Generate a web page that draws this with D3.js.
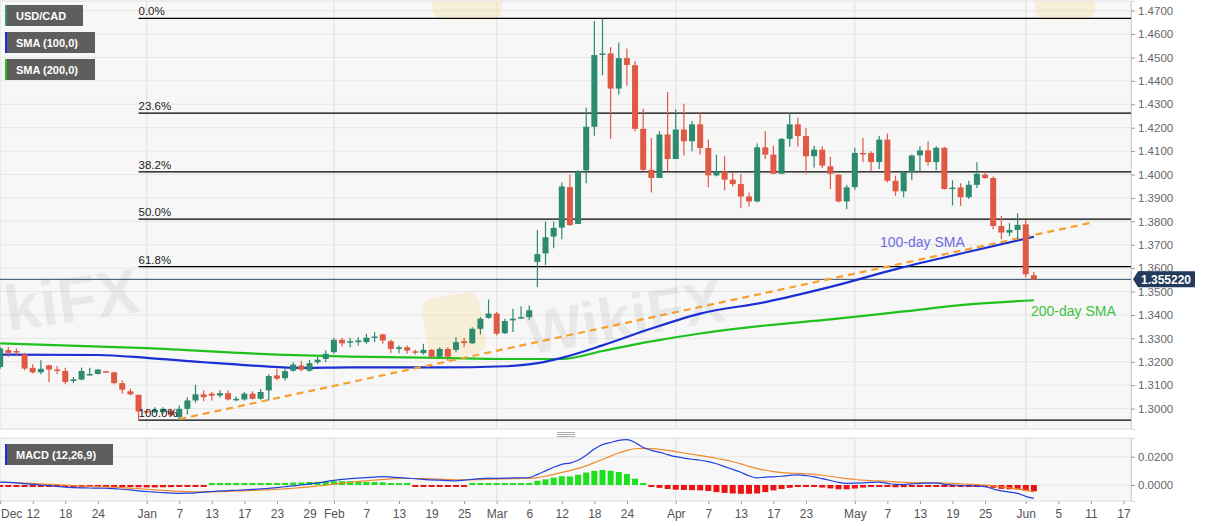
<!DOCTYPE html>
<html><head><meta charset="utf-8">
<script src="https://cdn.jsdelivr.net/npm/d3@7"></script>
<style>
body{margin:0;background:#fff;}
svg{display:block;font-family:"Liberation Sans",Arial,Helvetica,sans-serif;}
</style>
</head><body>
<svg id="chart" width="1207" height="526"></svg>
<script>
// ---------------- DATA ----------------
// trading-day index of first candle (0 = Dec 12, 2019)
const firstIndex = -4;
const opens = [1.3178,1.3250,1.3246,1.3232,
1.3174,1.3155,1.3185,1.3167,1.3161,1.3118,1.3124,1.3145,1.3148,1.3160,
1.3155,1.3109,1.3074,1.3059,1.2990,1.2985,1.2985,1.2992,1.2964,1.2999,
1.3035,1.3061,1.3064,1.3056,1.3066,1.3039,1.3039,1.3064,1.3042,1.3078,
1.3142,1.3130,1.3162,1.3184,1.3162,1.3198,1.3212,1.3241,1.3294,1.3284,
1.3284,1.3284,1.3305,1.3317,1.3288,1.3255,1.3262,1.3245,1.3237,1.3251,
1.3222,1.3255,1.3251,1.3288,1.3279,1.3341,1.3388,1.3406,1.3322,1.3377,
1.3387,1.3391,1.3627,1.3663,1.3735,1.3773,1.3946,1.3789,1.4018,1.4204,
1.4511,1.4517,1.4367,1.4497,1.4467,1.4195,1.4020,1.3985,1.4171,1.4066,
1.4192,1.4142,1.4214,1.4113,1.3996,1.4013,1.3978,1.3959,1.3906,1.3885,
1.4116,1.4085,1.4003,1.4152,1.4214,1.4164,1.4078,1.4106,1.4035,1.3999,
1.3885,1.3946,1.4092,1.4092,1.4053,1.4149,1.3973,1.3928,1.4011,1.4082,
1.4103,1.4053,1.4114,1.3941,1.3945,1.3903,1.3956,1.3999,1.3985,1.3780,
1.3752,1.3763,1.3787,1.3570];
const highs = [1.3264,1.3264,1.3257,1.3238,
1.3190,1.3207,1.3187,1.3182,1.3175,1.3135,1.3175,1.3175,1.3168,1.3161,
1.3158,1.3121,1.3085,1.3060,1.2998,1.3006,1.3006,1.2999,1.3013,1.3049,
1.3102,1.3078,1.3071,1.3078,1.3078,1.3052,1.3071,1.3074,1.3084,1.3147,
1.3171,1.3170,1.3198,1.3205,1.3208,1.3220,1.3248,1.3303,1.3303,1.3303,
1.3305,1.3320,1.3327,1.3320,1.3294,1.3270,1.3270,1.3251,1.3277,1.3255,
1.3262,1.3262,1.3305,1.3303,1.3348,1.3391,1.3466,1.3413,1.3384,1.3427,
1.3437,1.3441,1.3763,1.3799,1.3799,1.3966,1.3999,1.4018,1.4285,1.4656,
1.4667,1.4543,1.4564,1.4538,1.4485,1.4281,1.4156,1.4185,1.4352,1.4278,
1.4302,1.4228,1.4264,1.4149,1.4085,1.4078,1.4009,1.4002,1.3923,1.4132,
1.4185,1.4123,1.4156,1.4264,1.4242,1.4199,1.4123,1.4121,1.4075,1.4001,
1.3956,1.4114,1.4156,1.4099,1.4164,1.4175,1.3995,1.4015,1.4085,1.4121,
1.4142,1.4121,1.4118,1.3975,1.3963,1.3973,1.4052,1.4013,1.3992,1.3823,
1.3792,1.3835,1.3806,1.3584];
const lows = [1.3170,1.3221,1.3224,1.3164,
1.3150,1.3147,1.3114,1.3147,1.3104,1.3109,1.3121,1.3141,1.3146,1.3157,
1.3104,1.3064,1.3057,1.2951,1.2980,1.2981,1.2978,1.2966,1.2956,1.2975,
1.3025,1.3032,1.3035,1.3046,1.3035,1.3032,1.3035,1.3039,1.3038,1.3035,
1.3121,1.3120,1.3158,1.3160,1.3158,1.3191,1.3198,1.3234,1.3265,1.3262,
1.3270,1.3277,1.3284,1.3277,1.3237,1.3237,1.3234,1.3231,1.3231,1.3213,
1.3213,1.3205,1.3241,1.3262,1.3277,1.3317,1.3384,1.3312,1.3320,1.3327,
1.3384,1.3380,1.3520,1.3613,1.3685,1.3723,1.3780,1.3789,1.3963,1.4166,
1.4424,1.4152,1.4342,1.4378,1.4185,1.4013,1.3923,1.3985,1.4013,1.4066,
1.4081,1.4099,1.4085,1.3946,1.3992,1.3932,1.3949,1.3856,1.3863,1.3880,
1.4066,1.4003,1.4003,1.4118,1.4118,1.4003,1.4030,1.4028,1.3938,1.3880,
1.3852,1.3935,1.4052,1.4013,1.4023,1.3966,1.3909,1.3903,1.3975,1.4011,
1.4038,1.4018,1.3935,1.3868,1.3866,1.3895,1.3942,1.3982,1.3766,1.3723,
1.3737,1.3723,1.3560,1.3548];
const closes = [1.3257,1.3238,1.3244,1.3171,
1.3155,1.3170,1.3167,1.3161,1.3114,1.3125,1.3161,1.3148,1.3167,1.3158,
1.3109,1.3081,1.3061,1.2988,1.2986,1.2995,1.2999,1.2971,1.2999,1.3035,
1.3061,1.3049,1.3055,1.3066,1.3039,1.3042,1.3064,1.3042,1.3071,1.3139,
1.3128,1.3160,1.3188,1.3166,1.3194,1.3209,1.3234,1.3294,1.3279,1.3288,
1.3291,1.3303,1.3308,1.3291,1.3255,1.3262,1.3248,1.3240,1.3251,1.3222,
1.3255,1.3222,1.3284,1.3280,1.3341,1.3384,1.3406,1.3320,1.3374,1.3384,
1.3391,1.3420,1.3660,1.3732,1.3772,1.3949,1.3784,1.4013,1.4204,1.4510,
1.4517,1.4367,1.4497,1.4468,1.4195,1.4020,1.3985,1.4171,1.4066,1.4192,
1.4142,1.4214,1.4113,1.3996,1.4013,1.3978,1.3959,1.3906,1.3885,1.4116,
1.4085,1.4003,1.4152,1.4214,1.4164,1.4078,1.4106,1.4038,1.4003,1.3885,
1.3945,1.4092,1.4089,1.4053,1.4149,1.3973,1.3928,1.4009,1.4081,1.4103,
1.4053,1.4114,1.3938,1.3944,1.3903,1.3956,1.4003,1.3985,1.3780,1.3752,
1.3763,1.3785,1.3574,1.3552];

// moving averages (index, value)
const sma100Idx = [-4,8,14,21,25,29,33,39,50,58,62,65,70,76,82,90,98,106.5,115,123];
const sma100Val = [1.3231,1.3229,1.3217,1.3198,1.3189,1.3179,1.3174,1.3176,1.3176,1.3181,1.3194,1.3217,1.3270,1.3342,1.3406,1.3455,1.3520,1.3600,1.3670,1.3734];
const sma200Idx = [-4,14,30,39,50,58,65,70,76,82,90,98,107,115,123];
const sma200Val = [1.3279,1.3258,1.3231,1.3222,1.3217,1.3212,1.3212,1.3246,1.3287,1.3321,1.3355,1.3381,1.3415,1.3445,1.3463];

// trend line (two anchor points)
const trendIdx = [18, 130];
const trendVal = [1.2955, 1.3794];

// Fibonacci retracement
const fibHigh = 1.4667, fibLow = 1.2951, fibStartIdx = 13;
const fibLevels = [0, 0.236, 0.382, 0.5, 0.618, 1];
const fibLabels = ["0.0%","23.6%","38.2%","50.0%","61.8%","100.0%"];

const lastPrice = 1.355220;

// MACD (12,26,9)
const macdVals = [0.0020,0.0018,0.0015,0.0010,
0.0005,0.0000,-0.0005,-0.0010,-0.0015,-0.0018,-0.0020,-0.0021,-0.0022,-0.0023,
-0.0025,-0.0030,-0.0035,-0.0042,-0.0046,-0.0050,-0.0054,-0.0057,-0.0059,-0.0058,
-0.0055,-0.0050,-0.0046,-0.0042,-0.0040,-0.0037,-0.0034,-0.0031,-0.0028,-0.0024,
-0.0018,-0.0012,-0.0006,0.0000,0.0008,0.0015,0.0024,0.0033,0.0040,0.0045,
0.0049,0.0052,0.0056,0.0059,0.0056,0.0052,0.0048,0.0044,0.0040,0.0036,
0.0034,0.0031,0.0029,0.0034,0.0040,0.0045,0.0048,0.0047,0.0048,0.0050,
0.0051,0.0053,0.0075,0.0100,0.0125,0.0146,0.0155,0.0175,0.0210,0.0255,
0.0285,0.0300,0.0315,0.0320,0.0300,0.0265,0.0245,0.0232,0.0215,0.0200,
0.0190,0.0182,0.0175,0.0165,0.0150,0.0130,0.0110,0.0090,0.0065,0.0050,
0.0056,0.0058,0.0062,0.0068,0.0072,0.0066,0.0058,0.0045,0.0032,0.0018,
0.0012,0.0013,0.0015,0.0018,0.0020,0.0012,0.0004,0.0003,0.0008,0.0012,
0.0013,0.0015,0.0005,0.0000,-0.0004,-0.0006,-0.0008,-0.0012,-0.0028,-0.0042,
-0.0050,-0.0059,-0.0080,-0.0095];
const signalVals = [0.0019,0.0018,0.0016,0.0014,
0.0011,0.0008,0.0005,0.0002,-0.0001,-0.0004,-0.0007,-0.0009,-0.0012,-0.0014,
-0.0016,-0.0019,-0.0022,-0.0026,-0.0030,-0.0034,-0.0038,-0.0042,-0.0045,-0.0047,
-0.0048,-0.0048,-0.0048,-0.0047,-0.0045,-0.0043,-0.0041,-0.0039,-0.0037,-0.0034,
-0.0031,-0.0027,-0.0023,-0.0018,-0.0013,-0.0007,-0.0001,0.0006,0.0013,0.0019,
0.0025,0.0030,0.0035,0.0040,0.0043,0.0046,0.0046,0.0046,0.0045,0.0043,
0.0041,0.0039,0.0037,0.0036,0.0037,0.0038,0.0040,0.0042,0.0043,0.0044,
0.0046,0.0047,0.0052,0.0062,0.0075,0.0089,0.0102,0.0117,0.0135,0.0158,
0.0180,0.0204,0.0226,0.0245,0.0256,0.0259,0.0257,0.0252,0.0245,0.0236,
0.0226,0.0217,0.0208,0.0199,0.0189,0.0177,0.0164,0.0149,0.0132,0.0116,
0.0104,0.0095,0.0088,0.0084,0.0082,0.0079,0.0075,0.0069,0.0061,0.0053,
0.0045,0.0039,0.0034,0.0031,0.0029,0.0026,0.0022,0.0019,0.0017,0.0016,
0.0016,0.0016,0.0014,0.0011,0.0008,0.0005,0.0002,-0.0001,-0.0006,-0.0013,
-0.0020,-0.0028,-0.0038,-0.0049];
const histVals = [-0.0002,-0.0002,-0.0003,-0.0004,
-0.0006,-0.0008,-0.0010,-0.0012,-0.0013,-0.0014,-0.0013,-0.0012,-0.0010,-0.0009,
-0.0009,-0.0011,-0.0013,-0.0016,-0.0017,-0.0017,-0.0016,-0.0015,-0.0014,-0.0011,
-0.0007,-0.0002,0.0002,0.0005,0.0005,0.0006,0.0007,0.0008,0.0009,0.0010,
0.0013,0.0015,0.0017,0.0018,0.0021,0.0022,0.0025,0.0027,0.0027,0.0026,
0.0024,0.0022,0.0021,0.0019,0.0013,0.0006,0.0002,-0.0002,-0.0005,-0.0007,
-0.0007,-0.0008,-0.0008,-0.0002,0.0003,0.0007,0.0008,0.0005,0.0005,0.0006,
0.0005,0.0006,0.0030,0.0040,0.0052,0.0062,0.0060,0.0072,0.0088,0.0100,
0.0106,0.0100,0.0092,0.0078,0.0045,0.0008,-0.0010,-0.0020,-0.0028,-0.0033,
-0.0035,-0.0036,-0.0038,-0.0042,-0.0050,-0.0056,-0.0060,-0.0062,-0.0062,-0.0060,
-0.0050,-0.0038,-0.0028,-0.0020,-0.0012,-0.0012,-0.0014,-0.0018,-0.0024,-0.0030,
-0.0030,-0.0025,-0.0018,-0.0013,-0.0010,-0.0012,-0.0016,-0.0015,-0.0009,-0.0004,
-0.0002,-0.0001,-0.0008,-0.0011,-0.0012,-0.0011,-0.0010,-0.0011,-0.0020,-0.0027,
-0.0030,-0.0031,-0.0040,-0.0045];

// axis ticks
const xTickLabels = ["Dec","12","18","24","Jan","7","13","17","23","29","Feb","7","13","19","25","Mar","6","12","18","24","Apr","7","13","17","23","May","7","13","19","25","Jun","5","11","17"];
const xTickIdx = [-4,0,4,8,14,18,22,26,30,34,37,41,45,49,53,57,61,65,69,73,79,83,87,91,95,101,105,109,113,117,122,126,130,134];
const monthStartIdx = [14,37,57,79,101,122];
const priceTicks = [1.47,1.46,1.45,1.44,1.43,1.42,1.41,1.40,1.39,1.38,1.37,1.36,1.35,1.34,1.33,1.32,1.31,1.30];
const macdTicks = [0.02, 0.0];

// ---------------- DRAW ----------------
const svg = d3.select("#chart");
const plotR = 1131;
const mainTop = 1, mainBot = 429, macdTop = 438, macdBot = 501;

const x = d3.scaleLinear().domain([-4.02, 134.93]).range([0, plotR]);
const y = d3.scaleLinear().domain([1.2913, 1.4741]).range([mainBot, mainTop]);
const ym = d3.scaleLinear().domain([-0.0113, 0.0332]).range([macdBot, macdTop]);

const defs = svg.append("defs");
defs.append("clipPath").attr("id","clipMain").append("rect").attr("x",0).attr("y",mainTop).attr("width",plotR).attr("height",mainBot-mainTop);
defs.append("clipPath").attr("id","clipMacd").append("rect").attr("x",0).attr("y",macdTop).attr("width",plotR).attr("height",macdBot-macdTop);

// panel backgrounds
svg.append("rect").attr("x",0).attr("y",mainTop).attr("width",plotR).attr("height",mainBot-mainTop).attr("fill","#f7f7f7").attr("stroke","#d9dde3");
svg.append("rect").attr("x",0).attr("y",macdTop).attr("width",plotR).attr("height",macdBot-macdTop).attr("fill","#f7f7f7").attr("stroke","#d9dde3");

const gMain = svg.append("g").attr("clip-path","url(#clipMain)");
const gMacd = svg.append("g").attr("clip-path","url(#clipMacd)");

// grid
gMain.selectAll(".hg").data(priceTicks).join("line")
  .attr("x1",0).attr("x2",plotR).attr("y1",d=>y(d)).attr("y2",d=>y(d))
  .attr("stroke","#e6e6e6").attr("stroke-width",1);
gMain.selectAll(".vg").data(monthStartIdx).join("line")
  .attr("x1",d=>x(d)).attr("x2",d=>x(d)).attr("y1",mainTop).attr("y2",mainBot)
  .attr("stroke","#e2e2e2").attr("stroke-width",1.2);
gMacd.selectAll(".vg").data(monthStartIdx).join("line")
  .attr("x1",d=>x(d)).attr("x2",d=>x(d)).attr("y1",macdTop).attr("y2",macdBot)
  .attr("stroke","#e2e2e2").attr("stroke-width",1.2);
gMacd.selectAll(".hg").data(macdTicks).join("line")
  .attr("x1",0).attr("x2",plotR).attr("y1",d=>ym(d)).attr("y2",d=>ym(d))
  .attr("stroke","#e6e6e6");

// watermarks
const wm = gMain.append("g").attr("fill","#000").attr("fill-opacity",0.06).attr("font-weight","bold");
wm.append("text").attr("x",4).attr("y",322).attr("font-size",64)
  .attr("transform","rotate(-8,70,300)").text("kiFX");
wm.append("text").attr("x",525).attr("y",342).attr("font-size",60)
  .attr("transform","rotate(-10,600,320)").text("WikiFX");
wm.append("text").attr("x",1136).attr("y",330).attr("font-size",50)
  .attr("transform","rotate(-10,1170,315)").text("Wi");
const logos = gMain.append("g").attr("fill","#f3e2b0").attr("fill-opacity",0.45);
logos.append("rect").attr("x",425).attr("y",295).attr("width",58).attr("height",62).attr("rx",12).attr("transform","rotate(-10,454,326)");
logos.append("rect").attr("x",432).attr("y",-30).attr("width",70).attr("height",50).attr("rx",12);
logos.append("rect").attr("x",1035).attr("y",-30).attr("width",60).attr("height",50).attr("rx",12);

// fib lines
const fibData = fibLevels.map((l,k)=>({v: fibHigh - l*(fibHigh-fibLow), label: fibLabels[k]}));
gMain.selectAll(".fib").data(fibData).join("line")
  .attr("x1",x(fibStartIdx)).attr("x2",plotR).attr("y1",d=>y(d.v)).attr("y2",d=>y(d.v))
  .attr("stroke","#000").attr("stroke-width",1.2);

// last price line
gMain.append("line").attr("x1",0).attr("x2",plotR).attr("y1",y(lastPrice)).attr("y2",y(lastPrice))
  .attr("stroke","#2c4766").attr("stroke-width",1);

// SMA 200 & 100
const smaLine = d3.line().x(d=>x(d[0])).y(d=>y(d[1])).curve(d3.curveMonotoneX);
gMain.append("path").attr("d",smaLine(sma200Idx.map((v,k)=>[v,sma200Val[k]])))
  .attr("fill","none").attr("stroke","#1fc11f").attr("stroke-width",2.2);
gMain.append("path").attr("d",smaLine(sma100Idx.map((v,k)=>[v,sma100Val[k]])))
  .attr("fill","none").attr("stroke","#1a2fd4").attr("stroke-width",2.2);

// trend line
gMain.append("line").attr("x1",x(trendIdx[0])).attr("y1",y(trendVal[0]))
  .attr("x2",x(trendIdx[1])).attr("y2",y(trendVal[1]))
  .attr("stroke","#f5a030").attr("stroke-width",2.2).attr("stroke-dasharray","7,5");

// candles
const candles = opens.map((o,k)=>({i:firstIndex+k,o,h:highs[k],l:lows[k],c:closes[k]}));
const up = "#2c8a6f", dn = "#df5a44";
const cg = gMain.append("g");
cg.selectAll(".wick").data(candles).join("line")
  .attr("x1",d=>x(d.i)).attr("x2",d=>x(d.i)).attr("y1",d=>y(d.h)).attr("y2",d=>y(d.l))
  .attr("stroke",d=>d.c>=d.o?up:dn).attr("stroke-width",1.2);
cg.selectAll(".body").data(candles).join("rect")
  .attr("x",d=>x(d.i)-3).attr("width",6)
  .attr("y",d=>y(Math.max(d.o,d.c)))
  .attr("height",d=>Math.max(1.5, y(Math.min(d.o,d.c))-y(Math.max(d.o,d.c))))
  .attr("fill",d=>d.c>=d.o?up:dn);

// fib labels
gMain.selectAll(".fibl").data(fibData).join("text")
  .attr("x",x(fibStartIdx)).attr("y",d=>y(d.v)-3).attr("font-size",11.5).attr("fill","#222")
  .text(d=>d.label);

// annotations
gMain.append("text").attr("x",880).attr("y",247).attr("font-size",14).attr("fill","#6a6ae6").text("100-day SMA");
gMain.append("text").attr("x",1031).attr("y",316).attr("font-size",14).attr("fill","#3dc23d").text("200-day SMA");

// legends
function legendBox(yy, w, strip, label){
  const g = svg.append("g");
  g.append("rect").attr("x",5).attr("y",yy).attr("width",w).attr("height",21).attr("fill","#5e5e5e");
  g.append("rect").attr("x",5).attr("y",yy).attr("width",2).attr("height",21).attr("fill",strip);
  g.append("text").attr("x",16).attr("y",yy+15).attr("font-size",11).attr("font-weight","bold").attr("fill","#fff").text(label);
}
legendBox(5, 78, "#3f8f7c", "USD/CAD");
legendBox(32, 90, "#1a2fd4", "SMA (100,0)");
legendBox(59, 90, "#1fc11f", "SMA (200,0)");
legendBox(444, 108, "#1a2fd4", "MACD (12,26,9)");

// MACD histogram
const mdata = macdVals.map((m,k)=>({i:firstIndex+k,m,s:signalVals[k],h:histVals[k]}));
gMacd.selectAll(".hist").data(mdata).join("rect")
  .attr("x",d=>x(d.i)-3).attr("width",6)
  .attr("y",d=>{const hh=Math.max(2,Math.abs(ym(d.h)-ym(0))); return d.h>=0? ym(0)-hh : ym(0);})
  .attr("height",d=>Math.max(2,Math.abs(ym(d.h)-ym(0))))
  .attr("fill",d=>d.h>=0?"#1ee01e":"#ec1212");
const ml = d3.line().x(d=>x(d[0])).y(d=>ym(d[1])).curve(d3.curveMonotoneX);
gMacd.append("path").attr("d",ml(mdata.map(d=>[d.i,d.s]))).attr("fill","none").attr("stroke","#f08a2c").attr("stroke-width",1.2);
gMacd.append("path").attr("d",ml(mdata.map(d=>[d.i,d.m]))).attr("fill","none").attr("stroke","#2240dc").attr("stroke-width",1.2);

// panel handle
[432.5,434.5,436.5].forEach(v=>svg.append("line").attr("x1",557).attr("x2",575).attr("y1",v).attr("y2",v).attr("stroke","#777").attr("stroke-width",0.6));

// right axes
const yAxis = d3.axisRight(y).tickValues(priceTicks).tickFormat(d3.format(".4f")).tickSize(4).tickPadding(3);
const ga = svg.append("g").attr("transform",`translate(${plotR},0)`).call(yAxis);
ga.select(".domain").attr("stroke","#cfd3d8");
ga.selectAll("line").attr("stroke","#999");
ga.selectAll("text").attr("font-size",11.5).attr("fill","#666").attr("font-family","'Liberation Sans',Arial,sans-serif");

const ymAxis = d3.axisRight(ym).tickValues(macdTicks).tickFormat(d3.format(".4f")).tickSize(4).tickPadding(3);
const gm = svg.append("g").attr("transform",`translate(${plotR},0)`).call(ymAxis);
gm.select(".domain").attr("stroke","#cfd3d8");
gm.selectAll("line").attr("stroke","#999");
gm.selectAll("text").attr("font-size",11.5).attr("fill","#666").attr("font-family","'Liberation Sans',Arial,sans-serif");

// price tag
const py = y(lastPrice);
svg.append("path").attr("d",`M${plotR+2},${py} L${plotR+7},${py-8} L${plotR+64},${py-8} L${plotR+64},${py+8} L${plotR+7},${py+8} Z`).attr("fill","#223a5c");
svg.append("text").attr("x",plotR+35).attr("y",py+4.5).attr("text-anchor","middle").attr("font-size",12).attr("font-weight","bold").attr("fill","#fff").text("1.355220");

// bottom axis
const xAxis = d3.axisBottom(x).tickValues(xTickIdx).tickFormat((d,k)=>xTickLabels[k]).tickSize(3).tickPadding(5);
const gx = svg.append("g").attr("transform",`translate(0,${macdBot})`).call(xAxis);
gx.select(".domain").remove();
gx.selectAll("line").attr("stroke","#999");
gx.selectAll("text").attr("font-size",12).attr("fill","#555").attr("font-family","'Liberation Sans',Arial,sans-serif")
  .each(function(){ const b=this.getBBox(); const t=d3.select(this.parentNode).attr("transform"); const tx=+t.match(/translate\(([-\d.]+)/)[1]; if(tx - b.width/2 < 1){ d3.select(this).attr("text-anchor","start").attr("x", 1 - tx); } });
</script>
</body></html>
